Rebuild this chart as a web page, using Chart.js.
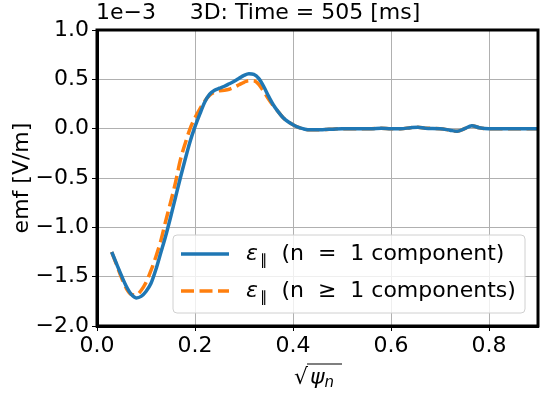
<!DOCTYPE html>
<html>
<head>
<meta charset="utf-8">
<script src="https://cdn.jsdelivr.net/npm/chart.js@4/dist/chart.umd.min.js"></script>
<style>
  html, body { margin: 0; padding: 0; background: #fff; }
  #wrap { width: 543px; height: 398px; position: relative; }
</style>
</head>
<body>
<div id="wrap"><canvas id="chart" width="543" height="398"></canvas></div>
<script>
// sqrt(psi_n) positions and emf values (units of 1e-3 V/m)
const psiN = [0.03, 0.04, 0.05, 0.06, 0.07, 0.08, 0.09, 0.10, 0.11, 0.12, 0.13, 0.14, 0.15, 0.16, 0.17, 0.18, 0.19, 0.20,
  0.21, 0.22, 0.23, 0.24, 0.25, 0.26, 0.27, 0.28, 0.29, 0.30, 0.31, 0.32, 0.33, 0.34, 0.35, 0.36, 0.37, 0.38, 0.39, 0.40,
  0.41, 0.42, 0.43, 0.44, 0.46, 0.48, 0.50, 0.52, 0.54, 0.56, 0.58, 0.60, 0.62, 0.64, 0.655, 0.67, 0.70, 0.72, 0.735,
  0.75, 0.765, 0.78, 0.80, 0.82, 0.85, 0.90];

const emfN1 = [-1.25, -1.37, -1.49, -1.60, -1.68, -1.715, -1.70, -1.65, -1.57, -1.43, -1.26, -1.09, -0.90, -0.70, -0.50, -0.31, -0.13, 0.02,
  0.15, 0.27, 0.35, 0.39, 0.41, 0.43, 0.455, 0.48, 0.51, 0.54, 0.557, 0.55, 0.51, 0.43, 0.33, 0.24, 0.17, 0.11, 0.07, 0.04,
  0.015, 0.0, -0.01, -0.01, -0.01, -0.005, 0.0, 0.0, 0.0, 0.0, 0.005, 0.0, 0.0, 0.01, 0.015, 0.005, 0.0, -0.015, -0.027,
  0.0, 0.03, 0.01, 0.0, 0.0, 0.0, 0.0];

const emfAll = [-1.25, -1.38, -1.51, -1.62, -1.68, -1.685, -1.64, -1.56, -1.44, -1.30, -1.14, -0.94, -0.75, -0.55, -0.32, -0.15, 0.0, 0.11,
  0.20, 0.28, 0.34, 0.37, 0.385, 0.39, 0.40, 0.42, 0.445, 0.47, 0.487, 0.485, 0.45, 0.38, 0.30, 0.23, 0.17, 0.11, 0.07, 0.04,
  0.015, 0.0, -0.01, -0.01, -0.01, -0.005, 0.0, 0.0, 0.0, 0.0, 0.005, 0.0, 0.0, 0.01, 0.015, 0.005, 0.0, -0.015, -0.027,
  0.0, 0.03, 0.01, 0.0, 0.0, 0.0, 0.0];

const xTicks = [0.0, 0.2, 0.4, 0.6, 0.8];
const yTicks = [-2.0, -1.5, -1.0, -0.5, 0.0, 0.5, 1.0];

const seriesLabels = ['(n  =  1 component)', '(n  \u2265  1 components)'];
const blue = '#1f77b4';
const orange = '#ff7f0e';
const FONT = "'DejaVu Sans', sans-serif";
const FS = 22;

const fmt = v => {
  const s = Math.abs(v).toFixed(1);
  return v < -1e-9 ? '\u2212' + s : s;
};

function toPoints(xs, ys) {
  return xs.map((x, i) => ({ x: x, y: ys[i] }));
}

// draw "ε‖ <label>" starting at x, centred on y
function drawEpsLabel(ctx, x, y, label) {
  ctx.textBaseline = 'middle';
  ctx.textAlign = 'left';
  ctx.fillStyle = '#000';
  ctx.font = 'italic ' + FS + 'px ' + FONT;
  ctx.fillText('\u03b5', x, y);
  let w = ctx.measureText('\u03b5').width;
  ctx.font = '15px ' + FONT;
  ctx.fillText('\u2225', x + w + 2, y + 7);
  w += ctx.measureText('\u2225').width + 2;
  ctx.font = FS + 'px ' + FONT;
  ctx.fillText(' ' + label, x + w + 7, y);
}

// frame, titles and legend
const decorations = {
  id: 'decorations',
  afterDatasetsDraw(chart) {
    const ctx = chart.ctx;
    const a = chart.chartArea;
    ctx.save();

    // legend box
    const lx = 173, ly = 235, lw = 352, lh = 78;
    ctx.beginPath();
    ctx.roundRect(lx, ly, lw, lh, 4);
    ctx.fillStyle = 'rgba(255,255,255,0.8)';
    ctx.fill();
    ctx.strokeStyle = '#d0d0d0';
    ctx.lineWidth = 1;
    ctx.stroke();

    const rows = [
      { y: 254, color: blue, dash: [], label: seriesLabels[0] },
      { y: 291, color: orange, dash: [13, 5.5], label: seriesLabels[1] }
    ];
    rows.forEach(r => {
      ctx.beginPath();
      ctx.setLineDash(r.dash);
      ctx.strokeStyle = r.color;
      ctx.lineWidth = 3.5;
      ctx.moveTo(181, r.y);
      ctx.lineTo(229, r.y);
      ctx.stroke();
      ctx.setLineDash([]);
      drawEpsLabel(ctx, 246, r.y, r.label);
    });

    // thick frame
    ctx.strokeStyle = '#000';
    ctx.lineWidth = 3;
    ctx.strokeRect(a.left, a.top, a.right - a.left, a.bottom - a.top);

    // title and offset text
    ctx.fillStyle = '#000';
    ctx.textBaseline = 'middle';
    ctx.font = FS + 'px ' + FONT;
    ctx.textAlign = 'center';
    ctx.fillText('3D: Time = 505 [ms]', 305, 13);
    ctx.textAlign = 'left';
    ctx.fillText('1e\u22123', 96, 13);

    // y title
    ctx.save();
    ctx.translate(22, (a.top + a.bottom) / 2);
    ctx.rotate(-Math.PI / 2);
    ctx.textAlign = 'center';
    ctx.fillText('emf [V/m]', 0, 0);
    ctx.restore();

    // x title: sqrt(psi_n)
    const cx = 294, cy = 378;
    ctx.font = FS + 'px ' + FONT;
    ctx.textAlign = 'left';
    ctx.fillText('\u221a', cx, cy);
    const sw = ctx.measureText('\u221a').width;
    ctx.lineWidth = 1.2;
    ctx.beginPath();
    ctx.moveTo(cx + sw - 1, 364);
    ctx.lineTo(cx + 48, 364);
    ctx.stroke();
    ctx.font = 'italic ' + FS + 'px ' + FONT;
    ctx.fillText('\u03c8', cx + sw + 2, cy);
    const pw = ctx.measureText('\u03c8').width;
    ctx.font = 'italic 15px ' + FONT;
    ctx.fillText('n', cx + sw + pw + 2, cy + 5);

    ctx.restore();
  }
};

new Chart(document.getElementById('chart'), {
  type: 'line',
  data: {
    datasets: [
      {
        label: seriesLabels[0],
        data: toPoints(psiN, emfN1),
        borderColor: blue,
        borderWidth: 3.5,
        pointRadius: 0,
        cubicInterpolationMode: 'monotone',
        fill: false
      },
      {
        label: seriesLabels[1],
        data: toPoints(psiN, emfAll),
        borderColor: orange,
        borderWidth: 3.5,
        borderDash: [13, 5.5],
        pointRadius: 0,
        cubicInterpolationMode: 'monotone',
        fill: false
      }
    ]
  },
  options: {
    responsive: false,
    animation: false,
    devicePixelRatio: 1,
    layout: { padding: { top: 30, right: 5, left: 0, bottom: 0 } },
    plugins: {
      legend: { display: false },
      tooltip: { enabled: false },
      title: { display: false }
    },
    scales: {
      x: {
        type: 'linear',
        min: 0,
        max: 0.9,
        afterBuildTicks: s => { s.ticks = xTicks.map(v => ({ value: v })); },
        afterFit: s => { s.height = 72; },
        grid: { color: '#b0b0b0', lineWidth: 1, tickColor: '#000', tickLength: 5 },
        border: { color: '#000', width: 3 },
        ticks: {
          font: { family: FONT, size: FS },
          color: '#000',
          padding: 2,
          maxRotation: 0,
          callback: v => fmt(v)
        }
      },
      y: {
        type: 'linear',
        min: -2,
        max: 1,
        afterBuildTicks: s => { s.ticks = yTicks.map(v => ({ value: v })); },
        afterFit: s => { s.width = 97; },
        grid: { color: '#b0b0b0', lineWidth: 1, tickColor: '#000', tickLength: 5 },
        border: { color: '#000', width: 3 },
        ticks: {
          font: { family: FONT, size: FS },
          color: '#000',
          padding: 3,
          callback: v => fmt(v)
        }
      }
    }
  },
  plugins: [decorations]
});
</script>
</body>
</html>
